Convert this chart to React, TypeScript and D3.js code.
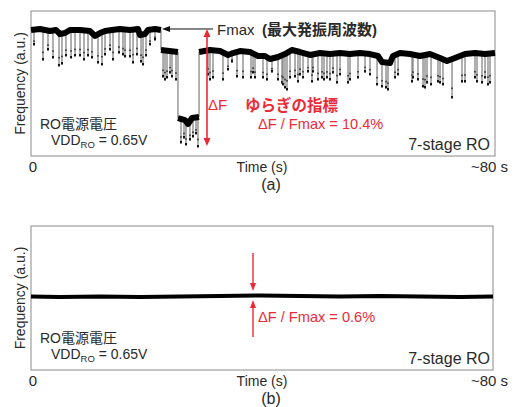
import React from "react";
import * as d3 from "d3";

// ---- data (time in s, frequency in % relative to Fmax) ----
const timeTicks = ["0", "Time (s)", "~80 s"];
const panelLabels = ["(a)", "(b)"];

// baseline of the RTN trace (a); equal consecutive times mark a level jump
const baselineA: [number, number][] = [
  [0, -0.09], [1.55, 0.0], [3.28, -0.18], [4.31, -0.09], [5.0, -0.45], [5.86, -0.36], [6.72, -0.09],
  [8.45, -0.09], [10.17, -0.18], [11.03, -0.62], [11.9, -0.36], [12.76, -0.18], [13.97, -0.09],
  [15.34, 0.0], [17.07, -0.09], [18.45, 0.0], [18.79, -0.54], [19.66, -0.45], [20.17, -0.09],
  [21.38, 0.0], [22.41, -0.09],
  [22.41, -1.87], [25.34, -2.05],
  [25.34, -7.92], [26.55, -8.1], [27.07, -8.45], [27.76, -7.92], [28.97, -7.83],
  [28.97, -2.05], [30.86, -1.87], [32.59, -1.96], [33.97, -2.31], [34.83, -2.14], [36.03, -1.96],
  [37.76, -2.05], [39.14, -2.4], [40.34, -2.4], [41.21, -2.67], [42.59, -2.49], [43.79, -2.23],
  [44.97, -1.87], [46.38, -2.05], [48.1, -2.31], [49.83, -2.14], [51.55, -2.23], [53.28, -2.14],
  [55.0, -2.23], [56.72, -2.14], [58.45, -2.23], [59.83, -2.4], [60.52, -2.94], [61.9, -3.03],
  [62.41, -2.4], [63.62, -2.14], [65.34, -2.23], [67.07, -2.4], [68.79, -2.23], [70.52, -2.58],
  [71.72, -2.85], [73.1, -2.58], [74.83, -2.23], [76.55, -2.14], [78.28, -2.23], [80, -2.14],
];

// downward telegraph spikes (time, lowest frequency)
const spikesA: [number, number][] = [
  [0.52, -1.42], [2.07, -2.76], [2.93, -1.87], [3.79, -2.58], [4.83, -3.29], [5.34, -3.12],
  [6.03, -2.4], [6.9, -2.58], [7.59, -2.4], [8.45, -2.4], [9.14, -2.76], [9.83, -2.4],
  [10.52, -2.58], [11.55, -3.03], [12.24, -3.2], [12.76, -2.31], [13.62, -1.87], [14.14, -2.76],
  [15.17, -2.14], [15.86, -2.31], [16.21, -2.49], [17.07, -2.49], [17.59, -3.03], [18.28, -2.31],
  [18.97, -2.94], [19.31, -3.2], [19.83, -2.4], [20.52, -1.42], [21.38, -0.98],
  [22.76, -4.27], [23.1, -4.54], [23.45, -4.36], [23.97, -3.92], [24.31, -4.27], [25.0, -4.54],
  [25.86, -10.14], [26.38, -9.7], [26.72, -10.32], [27.41, -9.88], [27.93, -9.61], [28.45, -9.34],
  [28.79, -10.5],
  [30.52, -4.09], [30.86, -4.54], [31.38, -4.36], [33.1, -4.54], [33.97, -3.65],
  [34.66, -2.94], [35.52, -4.27], [36.55, -4.36], [37.93, -4.36], [38.28, -3.92], [38.62, -4.36],
  [40.0, -4.36], [40.69, -4.54], [41.55, -3.83], [42.59, -4.54], [43.28, -4.81], [43.45, -4.98],
  [43.79, -5.25], [44.14, -5.43], [44.66, -4.36], [45.52, -4.27], [46.03, -4.72], [46.38, -4.09],
  [46.9, -4.36], [47.76, -3.83], [48.45, -4.72], [48.62, -3.83],
  [49.48, -4.54], [50.17, -4.36], [50.52, -4.54], [51.03, -4.36], [51.55, -4.54], [52.07, -3.92],
  [52.76, -4.81], [53.28, -4.09], [54.66, -4.81], [55.0, -4.54], [56.38, -4.36], [57.59, -3.83],
  [58.45, -4.09], [59.66, -4.98], [60.52, -5.16], [61.21, -5.25], [61.55, -5.43], [62.76, -4.36],
  [63.28, -4.09],
  [65.69, -4.72], [65.86, -4.36], [66.72, -4.54], [67.59, -5.16], [67.93, -5.25], [68.28, -4.81],
  [68.97, -4.98], [70.17, -4.72], [70.52, -4.81], [71.03, -4.98], [72.59, -6.14], [74.31, -4.72],
  [74.83, -4.72], [76.55, -4.36], [76.9, -4.72], [77.76, -4.81], [78.28, -4.36], [78.79, -4.98],
  [79.14, -4.81],
];

// stable trace (b)
const baselineB: [number, number][] = [
  [0, -4.72], [5.02, -4.76], [11.95, -4.72], [18.87, -4.76], [25.8, -4.72], [32.73, -4.67],
  [39.65, -4.63], [46.58, -4.67], [53.51, -4.72], [60.43, -4.67], [67.36, -4.72], [74.29, -4.76],
  [80, -4.72],
];

const fmaxPct = 0;
const deltaA = 10.4;
const deltaB = 0.6;

const RED = "#ec2a36";
const TXT = "#2a2a2a";
const LATIN = "'Liberation Sans', Arial, sans-serif";
const CJK = "'Liberation Sans', 'Noto Sans CJK JP', sans-serif";

function interp(base: [number, number][], t: number) {
  for (let i = 0; i < base.length - 1; i++) {
    const [t0, v0] = base[i];
    const [t1, v1] = base[i + 1];
    if (t >= t0 && t <= t1 && t1 > t0) return v0 + ((t - t0) / (t1 - t0)) * (v1 - v0);
  }
  return base[base.length - 1][1];
}

function splitRuns(base: [number, number][]) {
  const runs: [number, number][][] = [];
  const jumps: [[number, number], [number, number]][] = [];
  let cur: [number, number][] = [base[0]];
  for (let i = 1; i < base.length; i++) {
    if (base[i][0] === base[i - 1][0]) {
      runs.push(cur);
      jumps.push([base[i - 1], base[i]]);
      cur = [base[i]];
    } else cur.push(base[i]);
  }
  runs.push(cur);
  return { runs, jumps };
}

function Panel({
  top, bottom, right, label, base, spikes, delta, big,
}: {
  top: number; bottom: number; right: number; label: string;
  base: [number, number][]; spikes: [number, number][]; delta: number; big: boolean;
}) {
  const left = 31;
  const x = d3.scaleLinear().domain([0, 80]).range([left, right]);
  const y = d3.scaleLinear().domain([-11.3, 1.6]).range([bottom, top]);
  const line = d3.line<[number, number]>().x((d) => x(d[0])).y((d) => y(d[1]));
  const { runs, jumps } = splitRuns(base);
  const midY = (top + bottom) / 2;
  const tickY = bottom + 16;
  return (
    <g>
      <rect x={left} y={top} width={right - left} height={bottom - top} fill="#fff" stroke="#8a8a8a" strokeWidth={1} />
      {spikes.map(([t, v], i) => {
        const b = interp(base, t);
        return (
          <g key={"s" + i}>
            <line x1={x(t)} x2={x(t)} y1={y(b)} y2={y(v)} stroke="#7a7a7a" strokeWidth={1.2} />
            <rect x={x(t) - 1} y={y(v) - 2} width={2} height={2.5} fill="#111" />
            <rect x={x(t) - 0.8} y={y(v * 0.75 + b * 0.25) - 0.8} width={1.6} height={1.6} fill="#333" />
          </g>
        );
      })}
      {jumps.map(([a, b], i) => (
        <line key={"j" + i} x1={x(a[0])} x2={x(b[0])} y1={y(a[1])} y2={y(b[1])} stroke="#666" strokeWidth={1} />
      ))}
      {runs.map((r, i) => (
        <path key={"r" + i} d={line(r) || ""} fill="none" stroke="#000" strokeWidth={big ? 6 : 4} strokeLinejoin="round" />
      ))}
      <text transform={`translate(25,${midY}) rotate(-90)`} textAnchor="middle" fontSize={14} fontFamily={LATIN} fill={TXT}>
        Frequency (a.u.)
      </text>
      <text x={33} y={tickY} textAnchor="middle" fontSize={15} fontFamily={LATIN} fill={TXT}>{timeTicks[0]}</text>
      <text x={262} y={tickY} textAnchor="middle" fontSize={14} fontFamily={LATIN} fill={TXT}>{timeTicks[1]}</text>
      <text x={508} y={tickY} textAnchor="end" fontSize={15} fontFamily={LATIN} fill={TXT}>{timeTicks[2]}</text>
      <text x={271} y={bottom + 34} textAnchor="middle" fontSize={16} fontFamily={LATIN} fill={TXT}>{label}</text>
      <text x={40} y={bottom - 27} fontSize={14} fontFamily={CJK} fill={TXT}>RO電源電圧</text>
      <text x={51} y={bottom - 11} fontSize={14} fontFamily={LATIN} fill={TXT}>
        VDD<tspan fontSize={9.5} dy={3}>RO</tspan><tspan dy={-3}> = 0.65V</tspan>
      </text>
      <text x={490} y={bottom - 6} textAnchor="end" fontSize={16} fontFamily={LATIN} fill={TXT}>7-stage RO</text>
      {big ? (
        <g>
          <line x1={213} x2={166} y1={y(fmaxPct)} y2={y(fmaxPct)} stroke="#111" strokeWidth={1} />
          <path d={`M162,${y(fmaxPct)} L170,${y(fmaxPct) - 3} L170,${y(fmaxPct) + 3} Z`} fill="#111" />
          <text x={217} y={35} fontSize={15} fontFamily={LATIN} fill={TXT}>Fmax</text>
          <text x={262} y={35} fontSize={15} fontWeight="bold" fontFamily={CJK} fill={TXT}>(最大発振周波数)</text>
          <line x1={207} x2={207} y1={y(fmaxPct) + 5} y2={y(fmaxPct - delta) - 5} stroke={RED} strokeWidth={1.6} />
          <path d={`M207,${y(fmaxPct)} L203.5,${y(fmaxPct) + 8} L210.5,${y(fmaxPct) + 8} Z`} fill={RED} />
          <path d={`M207,${y(fmaxPct - delta)} L203.5,${y(fmaxPct - delta) - 8} L210.5,${y(fmaxPct - delta) - 8} Z`} fill={RED} />
          <text x={208} y={110} fontSize={15} fontFamily={LATIN} fill={RED}>ΔF</text>
          <text x={245} y={111} fontSize={15.5} fontWeight="bold" fontFamily="'Noto Sans CJK JP', sans-serif" fill={RED}>ゆらぎの指標</text>
          <text x={258} y={129} fontSize={14.6} fontFamily={LATIN} fill={RED}>{`ΔF / Fmax = ${delta}%`}</text>
        </g>
      ) : (
        <g>
          <line x1={253} x2={253} y1={253} y2={286} stroke={RED} strokeWidth={1.4} />
          <path d={`M253,291 L250,283 L256,283 Z`} fill={RED} />
          <line x1={253} x2={253} y1={337} y2={305} stroke={RED} strokeWidth={1.4} />
          <path d={`M253,300 L250,308 L256,308 Z`} fill={RED} />
          <text x={258} y={322} fontSize={14.6} fontFamily={LATIN} fill={RED}>{`ΔF / Fmax = ${delta}%`}</text>
        </g>
      )}
    </g>
  );
}

export default function App() {
  return (
    <svg width={515} height={407} style={{ position: "absolute", left: 0, top: 0, background: "#fff" }}>
      <rect width={515} height={407} fill="#fff" />
      <Panel top={11} bottom={156} right={495} label={panelLabels[0]} base={baselineA} spikes={spikesA} delta={deltaA} big={true} />
      <Panel top={226} bottom={370} right={493} label={panelLabels[1]} base={baselineB} spikes={[]} delta={deltaB} big={false} />
    </svg>
  );
}
